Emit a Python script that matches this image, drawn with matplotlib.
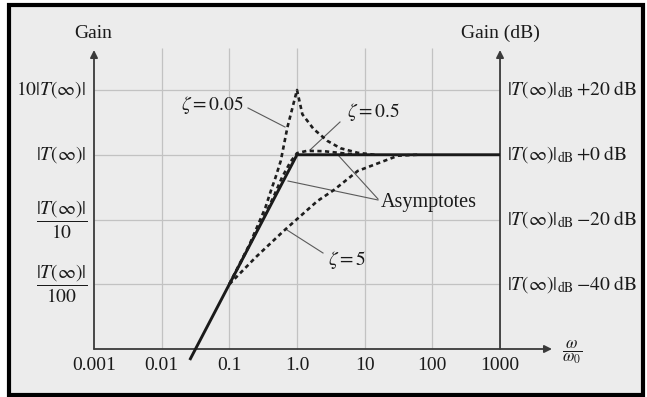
import matplotlib
matplotlib.use("Agg")
import matplotlib.pyplot as plt
from matplotlib.patches import Rectangle

plt.rcParams['font.family'] = ['Liberation Serif', 'DejaVu Serif']
plt.rcParams['mathtext.fontset'] = 'stix'

# ---------------- data ----------------
freq_ticks = [0.001, 0.01, 0.1, 1.0, 10, 100, 1000]
freq_labels = ['0.001', '0.01', '0.1', '1.0', '10', '100', '1000']
gain_levels_db = [20, 0, -20, -40]
left_labels = [r'$10|T(\infty)|$', r'$|T(\infty)|$',
               r'$\dfrac{|T(\infty)|}{10}$', r'$\dfrac{|T(\infty)|}{100}$']
right_labels = [r'$|T(\infty)|_{\mathrm{dB}}\,{+}20\ \mathrm{dB}$',
                r'$|T(\infty)|_{\mathrm{dB}}\,{+}0\ \mathrm{dB}$',
                r'$|T(\infty)|_{\mathrm{dB}}\,{-}20\ \mathrm{dB}$',
                r'$|T(\infty)|_{\mathrm{dB}}\,{-}40\ \mathrm{dB}$']

asym_w = [0.026, 1.0, 1000]
asym_db = [-63.4, 0.0, 0.0]

z005_w = [0.1, 0.2, 0.34, 0.41, 0.48, 0.575, 0.72, 1.0, 1.2, 1.75, 2.8, 4.4, 7.9, 14]
z005_db = [-40, -27.6, -16.4, -11.2, -7.1, -1.9, 8.4, 20, 12.5, 8.0, 4.3, 2.0, 0.6, 0.0]

z05_w = [0.1, 0.2, 0.35, 0.45, 0.6, 0.8, 1.0, 1.4, 2.5, 5, 8]
z05_db = [-40, -27.8, -17.8, -13.0, -7.0, -2.2, 0.5, 1.2, 1.1, 0.4, 0.0]

z5_w = [0.1, 0.25, 0.63, 2.0, 3.5, 7.9, 31, 60]
z5_db = [-40, -31.5, -23.6, -14.3, -10.9, -5.0, -0.3, 0.0]

# ---------------- figure ----------------
W, H = 647, 397
fig = plt.figure(figsize=(W / 100, H / 100), dpi=100)
fig.patch.set_facecolor('white')
fig.patches.append(Rectangle((9 / W, 2 / H), 634 / W, 390 / H, transform=fig.transFigure,
                             facecolor='#ececec', edgecolor='black', lw=3, zorder=-5))

ax = fig.add_axes([0, 0, 1, 1])
ax.set_zorder(2)
ax.set_xscale('log')
ax.patch.set_alpha(0)
ax.axis('off')

X0, DEC = 94, 67.67   # pixel of 0.001, pixels per decade
Y0, PDB = 349, 3.2375  # pixel of -60 dB, pixels per dB


def X(px):
    return 10 ** (-3 + (px - X0) / DEC)


def Y(py):
    return -60 + (Y0 - py) / PDB


ax.set_xlim(X(0), X(W))
ax.set_ylim(Y(H), Y(0))

grid_c = '#c2c2c2'
ax.vlines(freq_ticks[1:-1], -60, Y(48), color=grid_c, lw=0.9, zorder=1)
ax.hlines(gain_levels_db, freq_ticks[0], freq_ticks[-1], color=grid_c, lw=0.9, zorder=1)

axis_c = '#3a3a3a'
arrow = dict(arrowstyle='-|>', color=axis_c, lw=1.3, mutation_scale=11, shrinkA=0, shrinkB=0)
ax.annotate('', xy=(freq_ticks[0], Y(50)), xytext=(freq_ticks[0], -60), arrowprops=arrow)
ax.annotate('', xy=(freq_ticks[-1], Y(50)), xytext=(freq_ticks[-1], -60), arrowprops=arrow)
ax.annotate('', xy=(X(552), -60), xytext=(freq_ticks[0], -60), arrowprops=arrow)

# curves
ax.plot(asym_w, asym_db, color='#1a1a1a', lw=2.1, zorder=4, solid_capstyle='butt')
dash = dict(color='#1e1e1e', lw=1.9, ls=(0, (1.6, 1.3)), zorder=5)
ax.plot(z005_w, z005_db, **dash)
ax.plot(z05_w, z05_db, **dash)
ax.plot(z5_w, z5_db, **dash)

fs = 14
txt_c = '#1a1a1a'
# tick labels
for f, lab in zip(freq_ticks, freq_labels):
    ax.text(f, Y(366), lab, ha='center', va='center', fontsize=fs, color=txt_c)
ax.text(X(572), Y(352), r'$\dfrac{\omega}{\omega_0}$', ha='center', va='center',
        fontsize=12, color=txt_c)

for g, lab in zip(gain_levels_db, left_labels):
    if g >= 0:
        ax.text(X(86), g, lab, ha='right', va='center', fontsize=fs, color=txt_c)
    else:
        ax.text(X(62), g, lab, ha='center', va='center', fontsize=fs, color=txt_c)

for g, lab in zip(gain_levels_db, right_labels):
    ax.text(X(507), g, lab, ha='left', va='center', fontsize=fs, color=txt_c)

ax.text(X(93), Y(33), 'Gain', ha='center', va='center', fontsize=fs, color=txt_c)
ax.text(X(500), Y(33), 'Gain (dB)', ha='center', va='center', fontsize=fs, color=txt_c)

# annotations
lead = dict(color='#5a5a5a', lw=0.8, zorder=3)
ax.plot([X(248), X(285)], [Y(108), Y(127)], **lead)
ax.plot([X(340), X(310)], [Y(122), Y(150)], **lead)
ax.plot([X(378), X(288)], [Y(200), Y(181)], **lead)
ax.plot([X(378), X(338)], [Y(199), Y(155)], **lead)
ax.plot([X(323), X(287)], [Y(253), Y(230)], **lead)

ax.text(X(244), Y(105), r'$\zeta = 0.05$', ha='right', va='center', fontsize=fs, color=txt_c)
ax.text(X(347), Y(112), r'$\zeta = 0.5$', ha='left', va='center', fontsize=fs, color=txt_c)
ax.text(X(381), Y(202), 'Asymptotes', ha='left', va='center', fontsize=fs + 0.5, color=txt_c)
ax.text(X(328), Y(260), r'$\zeta = 5$', ha='left', va='center', fontsize=fs, color=txt_c)

fig.savefig('out.png', dpi=100)
